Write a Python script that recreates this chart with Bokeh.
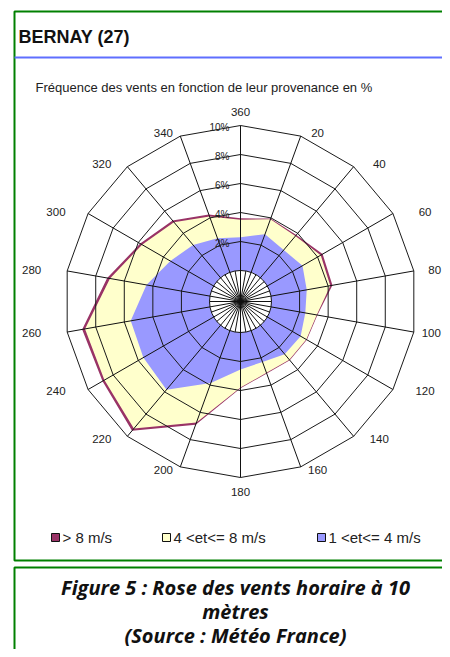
import numpy as np
from bokeh.plotting import figure
from bokeh.models import Range1d
from bokeh.core.properties import value
from bokeh.embed import file_html
from bokeh.resources import INLINE

# ---------------- data ----------------
directions = [20, 40, 60, 80, 100, 120, 140, 160, 180,
              200, 220, 240, 260, 280, 300, 320, 340, 360]
freq_1_4 = [2.8, 2.5, 2.8, 2.5, 2.4, 2.65, 2.6, 2.3, 2.55,
            3.85, 5.8, 5.6, 5.55, 4.45, 3.45, 2.95, 2.5, 2.3]
freq_4_8 = [1.1, 1.25, 1.45, 1.65, 0.8, 0.45, 0.5, 0.8, 1.25,
            2.9, 3.5, 3.1, 3.2, 2.55, 2.25, 2.05, 1.6, 1.2]
freq_gt8 = [0.05, 0.1, 0.15, 0.15, 0.05, 0.05, 0.05, 0.05, 0.05,
            0.15, 0.2, 0.15, 0.2, 0.2, 0.15, 0.15, 0.15, 0.1]
ring_values = [2, 4, 6, 8, 10]
ring_labels = ["2%", "4%", "6%", "8%", "10%"]
dir_labels = [str(d) for d in directions]
legend_labels = ["> 8 m/s", "4 <et<= 8 m/s", "1 <et<= 4 m/s"]
class_colors = ["#993366", "#FFFFCC", "#9999FF"]
title = "BERNAY (27)"
subtitle = "Fréquence des vents en fonction de leur provenance en %"
caption = ["Figure 5 : Rose des vents horaire à 10", "mètres",
           "(Source : Météo France)"]

# ---------------- geometry ----------------
W, H = 442, 649
CX, CY = 240.0, 301.0      # picture coordinates of rose centre
R0, K = 31.0, 14.5         # calm-circle radius, px per %


def Y(v):
    return -np.asarray(v, dtype=float)


def polar(vals, degs):
    vals = np.asarray(vals, dtype=float)
    th = np.radians(np.asarray(degs, dtype=float))
    r = R0 + K * vals
    return CX + r * np.sin(th), Y(CY - r * np.cos(th))


p = figure(width=W, height=H, x_range=Range1d(0, W),
           y_range=Range1d(-H, 0), output_backend="svg",
           toolbar_location=None, min_border=0,
           x_axis_type=None, y_axis_type=None)
p.grid.visible = False
p.outline_line_color = None
p.background_fill_color = "white"
p.border_fill_color = "white"

# frames
p.quad(left=[14], right=[480], top=[-11], bottom=[-560], fill_color=None,
       line_color="#008000", line_width=2)
p.quad(left=[14], right=[480], top=[-567], bottom=[-720], fill_color=None,
       line_color="#008000", line_width=2)

# title + rule
p.text(x=[18], y=[-36], text=[title], text_font=value("Liberation Sans"),
       text_font_style="bold", text_font_size="18px", text_color="#111111",
       text_baseline="middle", text_align="left")
p.line(x=[14, 480], y=[-57, -57], line_color="#5f6fff", line_width=2)
p.text(x=[35], y=[-87], text=[subtitle], text_font=value("Liberation Sans"),
       text_font_size="13px", text_color="#222222",
       text_baseline="middle", text_align="left")

# stacked filled polygons
c1 = np.array(freq_1_4)
c2 = c1 + np.array(freq_4_8)
c3 = c2 + np.array(freq_gt8)
for cum, col in zip([c3, c2, c1], class_colors):
    xs, ys = polar(cum, directions)
    p.patch(x=list(xs), y=list(ys), fill_color=col, line_color=None)

# calm circle
p.circle(x=[CX], y=[-CY], radius=R0, fill_color="white", line_color=None)

# rings (polygons)
ring_xs, ring_ys = [], []
closed = directions + [directions[0]]
for rv in ring_values:
    xs, ys = polar([rv] * len(closed), closed)
    ring_xs.append(list(xs))
    ring_ys.append(list(ys))
p.multi_line(xs=ring_xs, ys=ring_ys, line_color="#1a1a1a", line_width=1)

# spokes
sp_xs, sp_ys = [], []
for d in directions:
    xs, ys = polar([-R0 / K, ring_values[-1]], [d, d])
    sp_xs.append(list(xs))
    sp_ys.append(list(ys))
for d in directions:
    xs, ys = polar([-R0 / K, 0], [d - 10, d - 10])
    sp_xs.append(list(xs))
    sp_ys.append(list(ys))
p.multi_line(xs=sp_xs, ys=sp_ys, line_color="#111111", line_width=1)
p.circle(x=[CX], y=[-CY], radius=R0, fill_color=None,
         line_color="#111111", line_width=1)

# ring labels
rl_y = [-(CY - (R0 + K * v)) - 2 for v in ring_values]
p.text(x=[CX - 11] * len(ring_values), y=rl_y, text=ring_labels,
       text_font=value("Liberation Sans"), text_font_size="10px",
       text_color="#222222", text_align="right", text_baseline="middle")

# direction labels: beside the outer vertex, pushed sideways
th = np.radians(directions)
s, c = np.sin(th), np.cos(th)
R_out = R0 + K * ring_values[-1]
vx = CX + R_out * s
vy = CY - R_out * c
side = np.where(np.abs(s) < 0.1, 0.0, np.sign(s))
lx = vx + side * (7 + 29 * np.abs(s))
ly = vy - c * np.where(np.abs(s) < 0.1, 14.0, 3.0)
half_w = np.array([3.4 * len(t) for t in dir_labels])
lx = np.minimum(lx, W - 1 - half_w)
p.text(x=list(lx), y=list(-ly), text=dir_labels,
       text_font=value("Liberation Sans"), text_font_size="11.5px",
       text_color="#222222", text_align="center", text_baseline="middle")

# legend
sq_x = [55, 166, 321]
p.rect(x=sq_x, y=[-537] * 3, width=8, height=8, fill_color=class_colors,
       line_color="#111111", line_width=1)
p.text(x=[x + 7 for x in sq_x], y=[-537] * 3, text=legend_labels,
       text_font=value("Liberation Sans"), text_font_size="15px",
       text_color="#222222", text_align="left", text_baseline="middle")

# caption
p.text(x=[235] * 3, y=[-587, -611, -635], text=caption,
       text_font=value("Open Sans"), text_font_style="bold italic",
       text_font_size="20px", text_color="#111111",
       text_align="center", text_baseline="middle")

open("out.html", "w").write(file_html(p, INLINE))
